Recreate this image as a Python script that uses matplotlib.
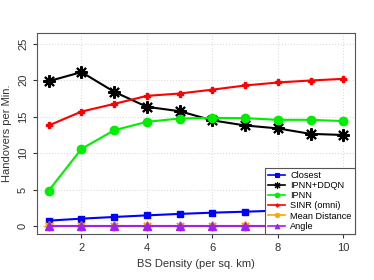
import matplotlib
matplotlib.use('Agg')
import matplotlib.pyplot as plt

plt.rcParams['font.family'] = ['Liberation Sans', 'DejaVu Sans']

density = [1, 2, 3, 4, 5, 6, 7, 8, 9, 10]
closest = [0.78, 1.05, 1.28, 1.5, 1.7, 1.87, 2.0, 2.15, 2.3, 2.4]
ipnn_ddqn = [19.86, 21.1, 18.4, 16.35, 15.75, 14.5, 13.8, 13.4, 12.65, 12.5]
ipnn = [4.9, 10.6, 13.15, 14.3, 14.75, 14.84, 14.8, 14.57, 14.57, 14.4]
sinr = [13.8, 15.7, 16.75, 17.85, 18.17, 18.7, 19.27, 19.68, 19.95, 20.18]
mean_dist = [0, 0, 0, 0, 0, 0, 0, 0, 0, 0]
angle = [0.1, 0.1, 0.1, 0.1, 0.1, 0.1, 0.1, 0.1, 0.1, 0.1]

fig = plt.figure(figsize=(3.74, 2.8), dpi=100)
ax = fig.add_axes([37/374, 1 - 234/280, 318/374, 201/280])

ax.plot(density, closest, color='#0000ff', marker='s', ms=5, lw=1.5, label='Closest')
ax.plot(density, ipnn_ddqn, color='black', marker=(8, 2, 0), ms=9, mew=1.5, lw=1.5, label='IPNN+DDQN')
ax.plot(density, ipnn, color='#00ee00', marker='o', ms=6, lw=1.5, label='IPNN')
ax.plot(density, sinr, color='#ff0000', marker='P', ms=4, lw=1.5, label='SINR (omni)')
ax.plot(density, mean_dist, color='#ffa500', marker=(8, 2, 0), ms=7, mew=1.2, lw=1.5, label='Mean Distance')
ax.plot(density, angle, color='#a020f0', marker='^', ms=6, lw=1.5, label='Angle')

ax.set_xlim(0.64, 10.36)
ax.set_ylim(-1.05, 26.45)
ax.set_xticks([2, 4, 6, 8, 10])
ax.set_yticks([0, 5, 10, 15, 20, 25])
for lbl in ax.get_yticklabels():
    lbl.set_rotation(90)
    lbl.set_va('center')
ax.tick_params(labelsize=8, colors='#333333', length=3)
ax.grid(True, color='#dddddd', linestyle=':', lw=0.8)
for s in ax.spines.values():
    s.set_color('#555555')

ax.set_xlabel('BS Density (per sq. km)', fontsize=8, color='#333333')
ax.set_ylabel('Handovers per Min.', fontsize=8, color='#333333')

leg = ax.legend(loc='lower right', fontsize=6.6, fancybox=False, framealpha=1,
                edgecolor='#555555', markerscale=0.55, handlelength=1.8,
                handletextpad=0.6, borderpad=0.35, labelspacing=0.13,
                borderaxespad=0)
leg.get_frame().set_linewidth(0.8)
# thinner marker edges in the legend so the asterisks stay visible
for h in leg.legend_handles:
    h.set_markeredgewidth(0.8)
    h.set_linewidth(1.2)

fig.savefig('out.png', dpi=100)
